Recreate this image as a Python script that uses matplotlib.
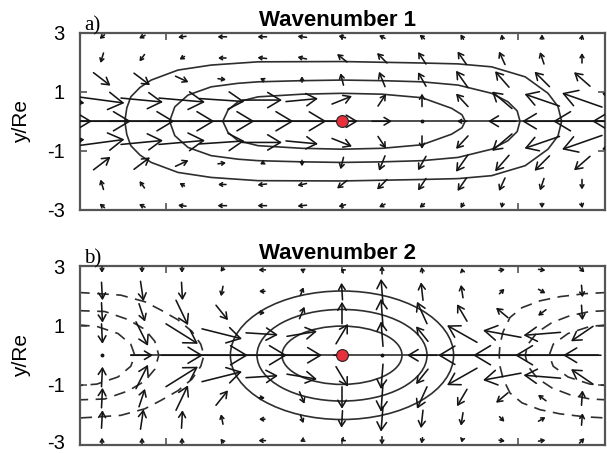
import numpy as np
import matplotlib
matplotlib.use('Agg')
import matplotlib.pyplot as plt
import matplotlib.transforms as mtransforms
from matplotlib.patches import FancyArrowPatch, Ellipse, ArrowStyle

plt.rcParams['font.family'] = ['Liberation Sans', 'DejaVu Sans']

# ---------------- data ----------------
x_cols = [-7, -6, -5, -4, -3, -2, -1, 0, 1, 2, 3, 4, 5, 6, 7]
y_rows = [2.87, 2.15, 1.43, 0.72, 0.0, -0.72, -1.43, -2.15, -2.87]

# panel a vector components (reference-pixel units)
U_a = [
    [-4, -5, -6, -8, -9, -9, -9, -7, -6, -5, -3, -1, 0, 1, 1],
    [-2, -3, -5, -5, -8, -9, -9, -10, -10, -8, -9, -6, -4, 0, 1],
    [15, 17, 16, 13, 8, -4, 0, -3, -6, -8, -12, -14, -15, -16, -15],
    [45, 45, 42, 46, 45, 40, 32, 20, 8, 0, -12, -20, -35, -40, -40],
    [60, 58, 65, 65, 65, 63, 49, 32, 20, 0, -10, -28, -40, -58, -60],
    [45, 45, 42, 46, 45, 40, 32, 20, 8, 0, -12, -20, -35, -40, -40],
    [15, 17, 16, 13, 8, -4, 0, -3, -6, -8, -12, -14, -15, -16, -15],
    [-2, -3, -5, -5, -8, -9, -9, -10, -10, -8, -9, -6, -4, 0, 1],
    [-4, -5, -6, -8, -9, -9, -9, -7, -6, -5, -3, -1, 0, 1, 1],
]
V_a = [
    [-4, -4, -3, -1, 0, 0, 1, 2, 3, 4, 5, 5, 5, 5, 5],
    [-10, -10, -7, -3, 0, 1, 2, 8, 10, 12, 13, 13, 12, 10, 9],
    [-14, -13, -12, -6, -1, 2, 6, 12, 15, 14, 17, 16, 15, 14, 12],
    [-6, -6, -4, -4, -3, 0, 3, 8, 12, 13, 13, 17, 12, 14, 14],
    [0, 0, 0, 0, 0, 0, 0, 0, 0, 0, 0, 0, 0, 0, 0],
    [6, 6, 4, 4, 3, 0, -3, -8, -12, -13, -13, -17, -12, -14, -14],
    [14, 13, 12, 6, 1, -2, -6, -12, -15, -14, -17, -16, -15, -14, -12],
    [10, 10, 7, 3, 0, -1, -2, -8, -10, -12, -13, -13, -12, -10, -9],
    [4, 4, 3, 1, 0, 0, -1, -2, -3, -4, -5, -5, -5, -5, -5],
]

# panel b vector components (reference-pixel units)
U_b = [
    [0, 0, 0, 0, -3, -7, -4, -3, 0, -1, -1, 6, 7, 5, 3],
    [0, 1, 3, 1, -2, -6, 3, -1, -2, -2, -2, 5, 7, 1, 0],
    [0, 1, 6, 12, 12, 6, 5, 0, -2, -10, -10, -12, -8, 1, 0],
    [0, 1, 12, 32, 40, 32, 30, 12, -2, -12, -30, -38, -37, -22, -5],
    [0, 0, 22, 42, 52, 50, 40, 16, 0, -30, -48, -58, -54, -38, -20],
    [0, 1, 12, 32, 40, 32, 30, 12, -2, -12, -30, -38, -37, -22, -5],
    [0, 1, 6, 12, 12, 6, 5, 0, -2, -10, -10, -12, -8, 1, 0],
    [0, 1, 3, 1, -2, -6, 3, -1, -2, -2, -2, 5, 7, 1, 0],
    [0, 0, 0, 0, -3, -7, -4, -3, 0, -1, -1, 6, 7, 5, 3],
]
V_b = [
    [-5, -6, -6, -6, -4, 0, 2, 2, 8, 6, 4, 1, -1, -5, -5],
    [-14, -18, -20, -18, -10, 0, 8, 17, 25, 18, 13, 5, -4, -12, -10],
    [-18, -20, -18, -25, -15, 0, 12, 22, 28, 22, 17, 10, -6, -15, -12],
    [-18, -20, -24, -20, -10, -2, 5, 20, 25, 15, 17, 7, -3, -15, -12],
    [0, 0, 0, 0, 0, 0, 0, 0, 0, 0, 0, 0, 0, 0, 0],
    [18, 20, 24, 20, 10, 2, -5, -20, -25, -15, -17, -7, 3, 15, 12],
    [18, 20, 18, 25, 15, 0, -12, -22, -28, -22, -17, -10, 6, 15, 12],
    [14, 18, 20, 18, 10, 0, -8, -17, -25, -18, -13, -5, 4, 12, 10],
    [5, 6, 6, 6, 4, 0, -2, -2, -8, -6, -4, -1, 1, 5, 5],
]

# panel a contours (upper halves; symmetric about the equator)
a_c1_x = [-2.98, -2.85, -2.6, -2.1, -1.0, 0.0, 1.0, 2.0, 2.74, 3.0, 3.08]
a_c1_y = [0.0, 0.38, 0.66, 0.83, 0.92, 0.95, 0.92, 0.8, 0.44, 0.22, 0.0]
a_c2_x = [-4.31, -4.18, -3.85, -3.27, -2.6, -2.1, -1.0, 0.0, 1.0, 2.0, 2.9, 3.74, 4.15, 4.38, 4.45]
a_c2_y = [0.0, 0.49, 0.89, 1.17, 1.29, 1.34, 1.38, 1.4, 1.38, 1.34, 1.23, 0.95, 0.66, 0.35, 0.0]
a_c3_x = [-5.43, -5.38, -5.28, -5.05, -4.77, -4.1, -3.27, -2.1, 0.0, 2.0, 2.9, 3.74, 4.58, 5.15, 5.4, 5.49]
a_c3_y = [0.0, 0.45, 0.83, 1.15, 1.4, 1.74, 1.91, 2.02, 2.03, 1.98, 1.95, 1.85, 1.51, 0.95, 0.5, 0.0]

# panel b negative (dashed) contours, upper halves
b_L1_x = [-6.6, -6.18, -5.53, -4.93, -4.53, -4.1, -3.75, -3.53, -3.45]
b_L1_y = [2.11, 2.08, 2.02, 1.8, 1.52, 1.19, 0.8, 0.37, 0.0]
b_L2_x = [-6.6, -5.93, -5.35, -4.93, -4.68, -4.58]
b_L2_y = [1.5, 1.47, 1.2, 0.87, 0.47, 0.0]
b_L3_x = [-6.6, -6.13, -5.6, -5.28, -5.18]
b_L3_y = [1.02, 0.97, 0.73, 0.37, 0.0]
b_R1_x = [6.63, 6.08, 5.45, 4.95, 4.5, 4.2, 4.03, 3.95, 3.93]
b_R1_y = [2.11, 2.07, 1.97, 1.83, 1.6, 1.27, 0.8, 0.37, 0.0]
b_R2_x = [6.63, 6.2, 5.7, 5.25, 4.88, 4.65, 4.58]
b_R2_y = [1.5, 1.47, 1.33, 1.1, 0.77, 0.37, 0.0]
b_R3_x = [6.63, 6.2, 5.65, 5.28, 5.18]
b_R3_y = [1.02, 0.97, 0.73, 0.37, 0.0]

# panel b positive contours (ellipses around the heating)
b_ell_w = [3.0, 4.25, 5.58]
b_ell_h = [1.96, 3.08, 4.32]

# equator line extents
eq_a = [-6.55, 6.575]
eq_b = [-5.28, 6.4]

heat_x, heat_y = 0.0, 0.0
titles = ['Wavenumber 1', 'Wavenumber 2']
panel_tags = ['a)', 'b)']
yticks = [-3, -1, 1, 3]
yticklabels = ['-3', '-1', '1', '3']
xticks = [-4.39, 0.0, 4.39]

# ---------------- figure ----------------
fig = plt.figure(figsize=(6.07, 4.53), dpi=100)
ax_a = fig.add_axes([80/607, (453-209.5)/453, 525/607, 176.5/453])
ax_b = fig.add_axes([80/607, (453-444.5)/453, 525/607, 178.5/453])

ARROW_C = '#151515'
LINE_C = '#2e2e2e'


def setup(ax, title, tag):
    ax.set_xlim(-6.55, 6.575)
    ax.set_ylim(-3, 3)
    ax.set_xticks(xticks)
    ax.set_xticklabels([])
    ax.set_yticks(yticks)
    ax.set_yticklabels(yticklabels)
    ax.tick_params(direction='in', top=True, right=True, length=5, width=1.1,
                   color='#444444', pad=11, labelsize=14.5)
    for s in ax.spines.values():
        s.set_linewidth(1.6)
        s.set_color('#555555')
    ax.set_title(title, fontsize=16, fontweight='bold', pad=5, x=0.49)
    ax.set_ylabel('y/Re', fontsize=15)
    ax.yaxis.set_label_coords(-0.093, 0.5)
    ax.text(0.008, 1.012, tag, transform=ax.transAxes, fontsize=15,
            family=['Liberation Serif', 'DejaVu Serif'], va='baseline', ha='left')


def draw_arrows(ax, U, V):
    inv = ax.transData.inverted()
    for i, yv in enumerate(y_rows):
        for j, xv in enumerate(x_cols):
            u = U[i][j]
            v = V[i][j]
            L = np.hypot(u, v)
            if L < 1:
                ax.plot(xv, yv, marker='o', ms=1.8, color=ARROW_C, zorder=3)
                continue
            cx, cy = ax.transData.transform((xv, yv))
            p0 = inv.transform((cx - u / 2.0, cy - v / 2.0))
            p1 = inv.transform((cx + u / 2.0, cy + v / 2.0))
            hl = min(max(0.32 * L, 3.0), 16.0) * 0.72
            hw = hl * 0.6
            arr = FancyArrowPatch(tuple(p0), tuple(p1),
                                  arrowstyle=ArrowStyle('->', head_length=hl, head_width=hw),
                                  mutation_scale=1, lw=1.15, color=ARROW_C,
                                  shrinkA=0, shrinkB=0, zorder=3)
            ax.add_patch(arr)


def closed(xs, ys):
    X = list(xs) + list(xs[::-1][1:])
    Y = list(ys) + [-v for v in ys[::-1][1:]]
    return X, Y


setup(ax_a, titles[0], panel_tags[0])
setup(ax_b, titles[1], panel_tags[1])

# lift the lowest tick label of the bottom panel slightly so it stays inside the figure
lab = ax_b.get_yticklabels()[0]
lab.set_transform(lab.get_transform() + mtransforms.ScaledTranslation(0, 3/100, fig.dpi_scale_trans))

# panel a
ax_a.plot(eq_a, [0, 0], color=LINE_C, lw=1.2, zorder=2)
for cx_, cy_ in [(a_c1_x, a_c1_y), (a_c2_x, a_c2_y), (a_c3_x, a_c3_y)]:
    X, Y = closed(cx_, cy_)
    ax_a.plot(X, Y, color=LINE_C, lw=1.2, zorder=2)
draw_arrows(ax_a, U_a, V_a)
ax_a.plot(heat_x, heat_y, 'o', ms=8.5, mfc='#e8303c', mec='#222222', mew=0.8, zorder=6)

# panel b
ax_b.plot(eq_b, [0, 0], color=LINE_C, lw=1.2, zorder=2)
for w, h in zip(b_ell_w, b_ell_h):
    ax_b.add_patch(Ellipse((heat_x, heat_y), w, h, fill=False, ec=LINE_C, lw=1.2, zorder=2))
for cx_, cy_ in [(b_L1_x, b_L1_y), (b_L2_x, b_L2_y), (b_L3_x, b_L3_y),
                 (b_R1_x, b_R1_y), (b_R2_x, b_R2_y), (b_R3_x, b_R3_y)]:
    X, Y = closed(cx_, cy_)
    ax_b.plot(X, Y, color=LINE_C, lw=1.2, ls=(0, (7, 4.5)), zorder=2)
draw_arrows(ax_b, U_b, V_b)
ax_b.plot(heat_x, heat_y, 'o', ms=8.5, mfc='#e8303c', mec='#222222', mew=0.8, zorder=6)

fig.savefig('out.png', dpi=100)
